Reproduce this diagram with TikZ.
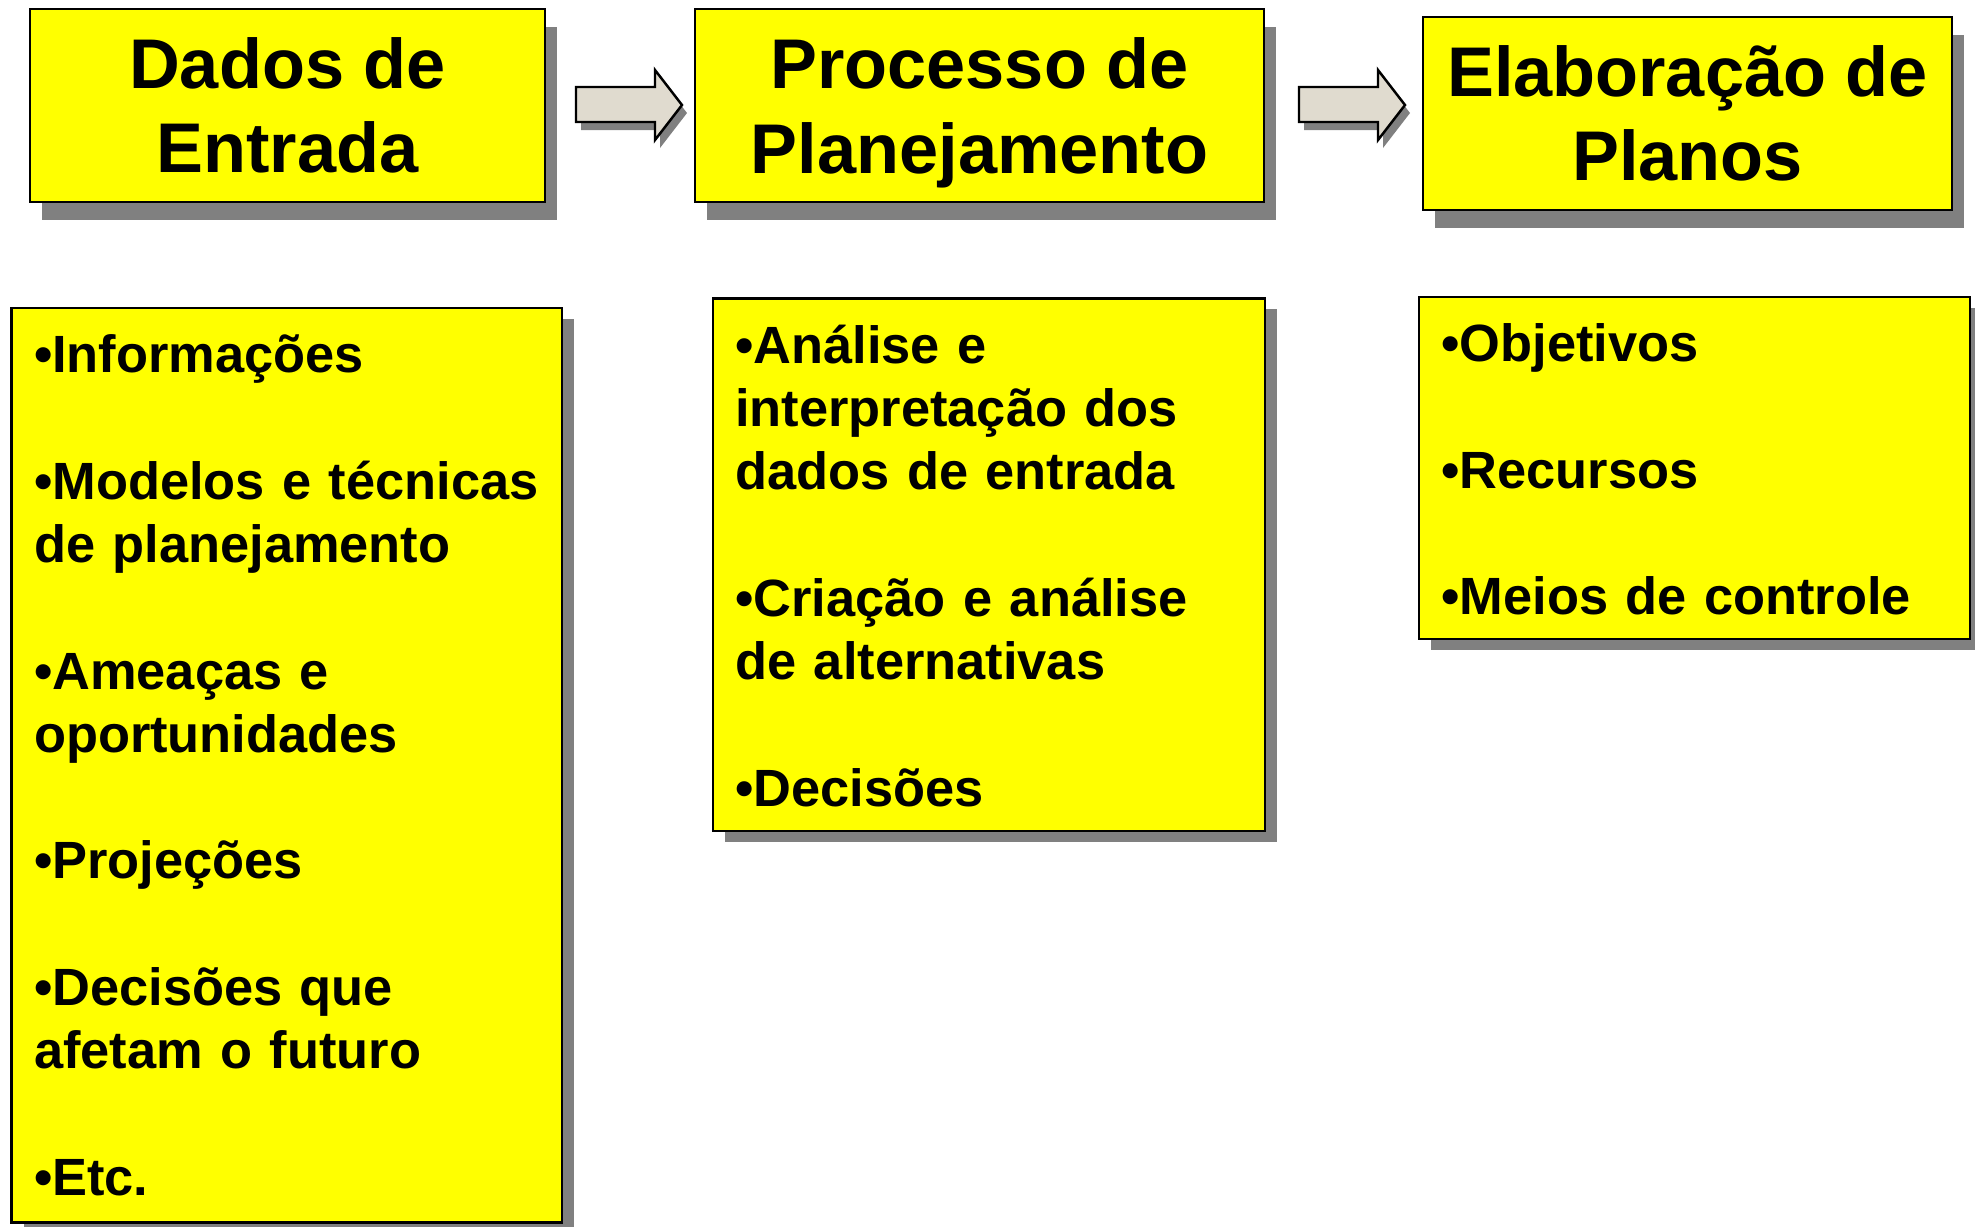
\documentclass[tikz,border=0pt]{standalone}
\usepackage{amsmath}
\usepackage{fontspec}
\setmainfont{Liberation Sans}
\usepackage{tikz}
\usetikzlibrary{shadows}

\definecolor{boxyellow}{RGB}{255,255,0}
\definecolor{shadowgray}{RGB}{128,128,128}
\definecolor{arrowfill}{RGB}{224,219,207}

\tikzset{
  titlebox/.style={draw=black, line width=0.7pt, fill=boxyellow, align=center,
    font=\bfseries\fontsize{20}{24}\selectfont, minimum height=1.93cm,
    drop shadow={shadow xshift=0.12cm, shadow yshift=-0.18cm, fill=shadowgray, opacity=1}},
  listbox/.style={draw=black, line width=0.7pt, fill=boxyellow, inner sep=0pt,
    drop shadow={shadow xshift=0.12cm, shadow yshift=-0.11cm, fill=shadowgray, opacity=1}},
  listtext/.style={anchor=base west, inner sep=0pt, text width=5.2cm, align=left,
    font=\bfseries\fontsize{14.9}{18}\selectfont},
  blockarrow/.style={draw=black, line width=0.7pt, fill=arrowfill, line join=miter}
}

\begin{document}
\begin{tikzpicture}[x=0.01cm, y=-0.01cm]

\useasboundingbox[fill=white] (0,0) rectangle (1975,1226);

\node[titlebox, minimum width=5.15cm] (entrada) at (287.5,105.5) {Dados de\\Entrada};
\node[titlebox, minimum width=5.69cm] (processo) at (979.5,105.5) {Processo de\\\smash[b]{Planejamento}};
\node[titlebox, minimum width=5.29cm] (planos) at (1687.5,113.5) {Elaboração de\\Planos};

\foreach \x in {576,1299}{
  \fill[shadowgray, shift={(\x+5,8)}] (0,87) -- (79,87) -- (79,70) -- (106,105) -- (79,140) -- (79,122) -- (0,122) -- cycle;
  \draw[blockarrow, shift={(\x,0)}] (0,87) -- (79,87) -- (79,70) -- (106,105) -- (79,140) -- (79,122) -- (0,122) -- cycle;
}

\node[listbox, minimum width=5.50cm, minimum height=9.14cm] (entradalist) at (286.75,765) {};
\node[listtext] (entradatext) at ([shift={(23,66)}]entradalist.north west)
  {•Informações\\[18pt]•Modelos e técnicas\\de planejamento\\[18pt]•Ameaças e\\oportunidades\\[18pt]•Projeções\\[18pt]•Decisões que\\afetam o futuro\\[18pt]•Etc.};

\node[listbox, minimum width=5.52cm, minimum height=5.325cm] (processolist) at (989,564.75) {};
\node[listtext] (processotext) at ([shift={(23,66)}]processolist.north west)
  {•Análise e\\interpretação dos\\dados de entrada\\[18pt]•Criação e análise\\de alternativas\\[18pt]•Decisões};

\node[listbox, minimum width=5.51cm, minimum height=3.42cm] (planoslist) at (1694.5,468) {};
\node[listtext] (planostext) at ([shift={(23,66)}]planoslist.north west)
  {•Objetivos\\[18pt]•Recursos\\[18pt]•Meios de controle};

\end{tikzpicture}
\end{document}
